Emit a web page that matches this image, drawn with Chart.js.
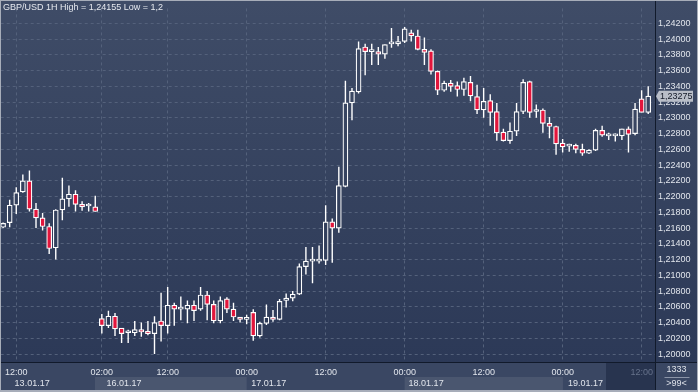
<!DOCTYPE html>
<html>
<head>
<meta charset="utf-8">
<script src="https://cdn.jsdelivr.net/npm/chart.js@4.4.1/dist/chart.umd.min.js"></script>
<style>
  html, body { margin: 0; padding: 0; background: #34415e; }
  #wrap { width: 698px; height: 392px; }
</style>
</head>
<body>
<div id="wrap"><canvas id="fxChart" width="698" height="392"></canvas></div>
<script>
// GBP/USD hourly candles, one per slot (weekend gap removed)
const openP = [
  1.2161, 1.2167, 1.2189, 1.2206, 1.2220, 1.2184, 1.2173, 1.2162, 1.2135, 1.2183,
  1.2197, 1.2203, 1.2190, 1.2188, 1.2187,
  1.2045, 1.2036, 1.2048, 1.2033, 1.2027, 1.2027, 1.2031, 1.2029, 1.2026, 1.2042,
  1.2036, 1.2062, 1.2057, 1.2057, 1.2062, 1.2057, 1.2075, 1.2063, 1.2042, 1.2070,
  1.2057, 1.2047, 1.2044, 1.2053, 1.2023, 1.2039, 1.2047, 1.2044, 1.2068, 1.2071,
  1.2076, 1.2111, 1.2118, 1.2118, 1.2119, 1.2168, 1.2160, 1.2213, 1.2319, 1.2333,
  1.2390, 1.2384, 1.2384, 1.2381, 1.2394, 1.2394, 1.2397, 1.2408, 1.2404, 1.2387,
  1.2385, 1.2359, 1.2335, 1.2344, 1.2341, 1.2336, 1.2345, 1.2327, 1.2310, 1.2322,
  1.2308, 1.2282, 1.2271, 1.2283, 1.2308, 1.2346, 1.2308, 1.2310, 1.2293, 1.2289,
  1.2268, 1.2264, 1.2265, 1.2260, 1.2255, 1.2259, 1.2284, 1.2277, 1.2277, 1.2277,
  1.2286, 1.2280, 1.2324, 1.2307
];
const highP = [
  1.2167, 1.2196, 1.2212, 1.2228, 1.2233, 1.2192, 1.2179, 1.2166, 1.2184, 1.2224,
  1.2214, 1.2208, 1.2194, 1.2192, 1.2201,
  1.2051, 1.2055, 1.2052, 1.2033, 1.2031, 1.2042, 1.2040, 1.2042, 1.2048, 1.2078,
  1.2085, 1.2065, 1.2073, 1.2068, 1.2068, 1.2085, 1.2080, 1.2068, 1.2073, 1.2072,
  1.2065, 1.2047, 1.2050, 1.2057, 1.2041, 1.2063, 1.2056, 1.2070, 1.2077, 1.2080,
  1.2115, 1.2136, 1.2136, 1.2138, 1.2189, 1.2172, 1.2238, 1.2347, 1.2338, 1.2397,
  1.2394, 1.2394, 1.2390, 1.2393, 1.2414, 1.2404, 1.24155, 1.2412, 1.2412, 1.2402,
  1.2387, 1.2360, 1.2347, 1.2348, 1.2346, 1.2351, 1.2353, 1.2342, 1.2338, 1.2330,
  1.2319, 1.2286, 1.2294, 1.2319, 1.2349, 1.2347, 1.2317, 1.2312, 1.2301, 1.2290,
  1.2273, 1.2267, 1.2267, 1.2267, 1.2260, 1.2286, 1.2290, 1.2281, 1.2280, 1.2286,
  1.2289, 1.2319, 1.2335, 1.2340
];
const lowP = [
  1.2160, 1.2161, 1.2178, 1.2205, 1.2181, 1.2160, 1.2157, 1.2127, 1.2120, 1.2170,
  1.2187, 1.2181, 1.2182, 1.2181, 1.2181,
  1.2026, 1.2033, 1.2023, 1.2014, 1.2014, 1.2023, 1.2022, 1.2024, 1.2000, 1.2016,
  1.2026, 1.2036, 1.2043, 1.2039, 1.2042, 1.2055, 1.2043, 1.2039, 1.2039, 1.2052,
  1.2042, 1.2040, 1.2038, 1.2017, 1.2021, 1.2037, 1.2041, 1.2043, 1.2059, 1.2067,
  1.2075, 1.2101, 1.2090, 1.2115, 1.2113, 1.2116, 1.2154, 1.2212, 1.2297, 1.2331,
  1.2354, 1.2367, 1.2367, 1.2375, 1.2389, 1.2391, 1.2395, 1.2397, 1.2386, 1.2367,
  1.2355, 1.2329, 1.2333, 1.2333, 1.2327, 1.2328, 1.2321, 1.2305, 1.2300, 1.2290,
  1.2271, 1.2270, 1.2267, 1.2277, 1.2305, 1.2300, 1.2300, 1.2281, 1.2274, 1.2253,
  1.2256, 1.2257, 1.2255, 1.2252, 1.2254, 1.2258, 1.2276, 1.2272, 1.2270, 1.2272,
  1.2256, 1.2278, 1.2307, 1.2305
];
const closeP = [
  1.2166, 1.2189, 1.2205, 1.2220, 1.2184, 1.2173, 1.2162, 1.2134, 1.2183, 1.2197,
  1.2203, 1.2190, 1.2187, 1.2188, 1.2181,
  1.2036, 1.2048, 1.2032, 1.2026, 1.2027, 1.2031, 1.2028, 1.2026, 1.2040, 1.2036,
  1.2062, 1.2057, 1.2057, 1.2062, 1.2055, 1.2075, 1.2063, 1.2042, 1.2068, 1.2057,
  1.2047, 1.2044, 1.2044, 1.2023, 1.2039, 1.2047, 1.2044, 1.2067, 1.2071, 1.2076,
  1.2111, 1.2118, 1.2118, 1.2120, 1.2168, 1.2160, 1.2214, 1.2319, 1.2334, 1.2388,
  1.2384, 1.2384, 1.2381, 1.2393, 1.2394, 1.2397, 1.2413, 1.2404, 1.2387, 1.2383,
  1.2359, 1.2335, 1.2344, 1.2340, 1.2336, 1.2346, 1.2328, 1.2310, 1.2321, 1.2307,
  1.2281, 1.2271, 1.2283, 1.2308, 1.2345, 1.2307, 1.2310, 1.2293, 1.2289, 1.2267,
  1.2263, 1.2264, 1.2260, 1.2255, 1.2259, 1.2284, 1.2278, 1.2277, 1.2277, 1.2286,
  1.2279, 1.2311, 1.2307, 1.23275
];

const timeTicks = [2, 15, 25, 37, 49, 61, 73, 85, 97];
const timeLabels = ['12:00', '02:00', '12:00', '00:00', '12:00', '00:00', '12:00', '00:00', '12:00'];
const dayLabels = ['13.01.17', '16.01.17', '17.01.17', '18.01.17', '19.01.17'];
const dayLabelAt = [1.75, 15.7, 37.7, 61.6, 85.8];
const shadedDays = [[13.95, 37.0], [61.0, 85.05]];
const priceTicks = [
  1.200, 1.202, 1.204, 1.206, 1.208, 1.210, 1.212, 1.214, 1.216, 1.218, 1.220,
  1.222, 1.224, 1.226, 1.228, 1.230, 1.232, 1.234, 1.236, 1.238, 1.240, 1.242
];
const lastPrice = 1.23275;
const titleText = 'GBP/USD 1H High = 1,24155 Low = 1,2';
const barCount = '1333';
const zoomText = '>99<';

const FONT = "'Liberation Sans', Arial, sans-serif";
const RED = '#e2163c';
const fmt = v => v.toFixed(5).replace('.', ',');

const wickData = highP.map((h, i) => ({ x: i, y: [lowP[i], h] }));
const bodyData = openP.map((o, i) => ({ x: i, y: [o, closeP[i]] }));

const chartFrame = {
  id: 'chartFrame',
  afterLayout(chart) {
    const g = chart.ctx.createLinearGradient(0, 0, 0, chart.chartArea.bottom);
    g.addColorStop(0, '#3f4c67');
    g.addColorStop(1, '#2c3957');
    chart.$bg = g;
  },
  beforeDraw(chart) {
    const { ctx, chartArea: a, scales: { x } } = chart;
    ctx.save();
    ctx.fillStyle = chart.$bg;
    ctx.fillRect(0, 0, chart.width, a.bottom);
    ctx.fillStyle = '#3a4763';
    ctx.fillRect(0, a.bottom, chart.width, chart.height - a.bottom);
    ctx.fillStyle = '#4a566f';
    shadedDays.forEach(([s, e]) => {
      const x0 = x.getPixelForValue(s);
      const x1 = x.getPixelForValue(e);
      ctx.fillRect(x0, a.bottom + 15, x1 - x0, 13);
    });
    // scroll box at the right end of the time strip
    ctx.fillStyle = '#28344f';
    ctx.fillRect(606, a.bottom + 1, a.right - 606, 27);
    ctx.restore();
  },
  afterDraw(chart) {
    const { ctx, chartArea: a, scales: { x, y } } = chart;
    ctx.save();

    // separators
    ctx.strokeStyle = '#111a2b';
    ctx.lineWidth = 1;
    ctx.beginPath();
    ctx.moveTo(0, a.bottom + 0.5);
    ctx.lineTo(chart.width, a.bottom + 0.5);
    ctx.moveTo(a.right + 0.5, 0);
    ctx.lineTo(a.right + 0.5, chart.height);
    ctx.stroke();

    // date row
    ctx.font = '9px ' + FONT;
    ctx.fillStyle = '#e1e5ec';
    ctx.textAlign = 'left';
    ctx.textBaseline = 'middle';
    dayLabels.forEach((d, i) => {
      ctx.fillText(d, x.getPixelForValue(dayLabelAt[i]), a.bottom + 21.5);
    });

    // title
    ctx.fillStyle = '#e6e9ef';
    ctx.fillText(titleText, 3, 8);

    // last price tag
    const py = y.getPixelForValue(lastPrice);
    ctx.fillStyle = '#b9bec8';
    ctx.beginPath();
    ctx.moveTo(a.right + 1, py);
    ctx.lineTo(a.right + 4, py - 5.5);
    ctx.lineTo(a.right + 38, py - 5.5);
    ctx.lineTo(a.right + 38, py + 5.5);
    ctx.lineTo(a.right + 4, py + 5.5);
    ctx.closePath();
    ctx.fill();
    ctx.fillStyle = '#141a28';
    ctx.fillText(fmt(lastPrice), a.right + 5, py + 0.5);

    // corner box
    const cx = (a.right + chart.width) / 2;
    ctx.textAlign = 'center';
    ctx.fillStyle = '#dde1e8';
    ctx.fillText(barCount, cx, a.bottom + 8);
    ctx.fillText(zoomText, cx, a.bottom + 22);
    ctx.strokeStyle = '#8c95a8';
    ctx.beginPath();
    ctx.moveTo(cx - 12, a.bottom + 15.5);
    ctx.lineTo(cx + 13, a.bottom + 15.5);
    ctx.stroke();

    // outer frame
    ctx.strokeStyle = '#a7adb9';
    ctx.strokeRect(0.5, 0.5, chart.width - 1, chart.height - 1);
    ctx.fillStyle = '#a7adb9';
    ctx.fillRect(0, chart.height - 2, chart.width, 2);
    ctx.restore();
  }
};

new Chart(document.getElementById('fxChart'), {
  type: 'bar',
  data: {
    datasets: [
      {
        label: 'wick',
        data: wickData,
        backgroundColor: '#ffffff',
        borderWidth: 0,
        barThickness: 1.4,
        inflateAmount: 0,
        grouped: false,
        order: 2
      },
      {
        label: 'body',
        data: bodyData,
        backgroundColor: c => closeP[c.dataIndex] < openP[c.dataIndex] ? RED : c.chart.$bg,
        borderColor: '#ffffff',
        borderWidth: 1.2,
        borderSkipped: false,
        barThickness: 5,
        minBarLength: 2,
        grouped: false,
        order: 1
      }
    ]
  },
  options: {
    responsive: false,
    animation: false,
    devicePixelRatio: 1,
    events: [],
    layout: { padding: { top: 7, left: 0, right: 0, bottom: 0 } },
    plugins: { legend: { display: false }, tooltip: { enabled: false } },
    scales: {
      x: {
        type: 'linear',
        min: -0.364,
        max: 99.03,
        offset: false,
        bounds: 'data',
        afterBuildTicks: s => { s.ticks = timeTicks.map(v => ({ value: v })); },
        afterFit: s => { s.height = 30; },
        grid: { color: '#54617b', drawTicks: false, offset: false },
        border: { display: false, dash: [3, 3] },
        ticks: {
          autoSkip: false,
          maxRotation: 0,
          padding: 5,
          font: { family: FONT, size: 9 },
          color: c => c.index === timeTicks.length - 1 ? '#66728b' : '#e1e5ec',
          callback: (v, i) => timeLabels[i]
        }
      },
      y: {
        position: 'right',
        min: 1.19899,
        max: 1.2439,
        bounds: 'data',
        afterBuildTicks: s => { s.ticks = priceTicks.map(v => ({ value: v })); },
        afterFit: s => { s.width = 43; },
        grid: { color: '#54617b', drawTicks: false },
        border: { display: false, dash: [3, 3] },
        ticks: {
          padding: 3,
          font: { family: FONT, size: 9 },
          color: '#e1e5ec',
          callback: v => fmt(v)
        }
      }
    }
  },
  plugins: [chartFrame]
});
</script>
</body>
</html>
